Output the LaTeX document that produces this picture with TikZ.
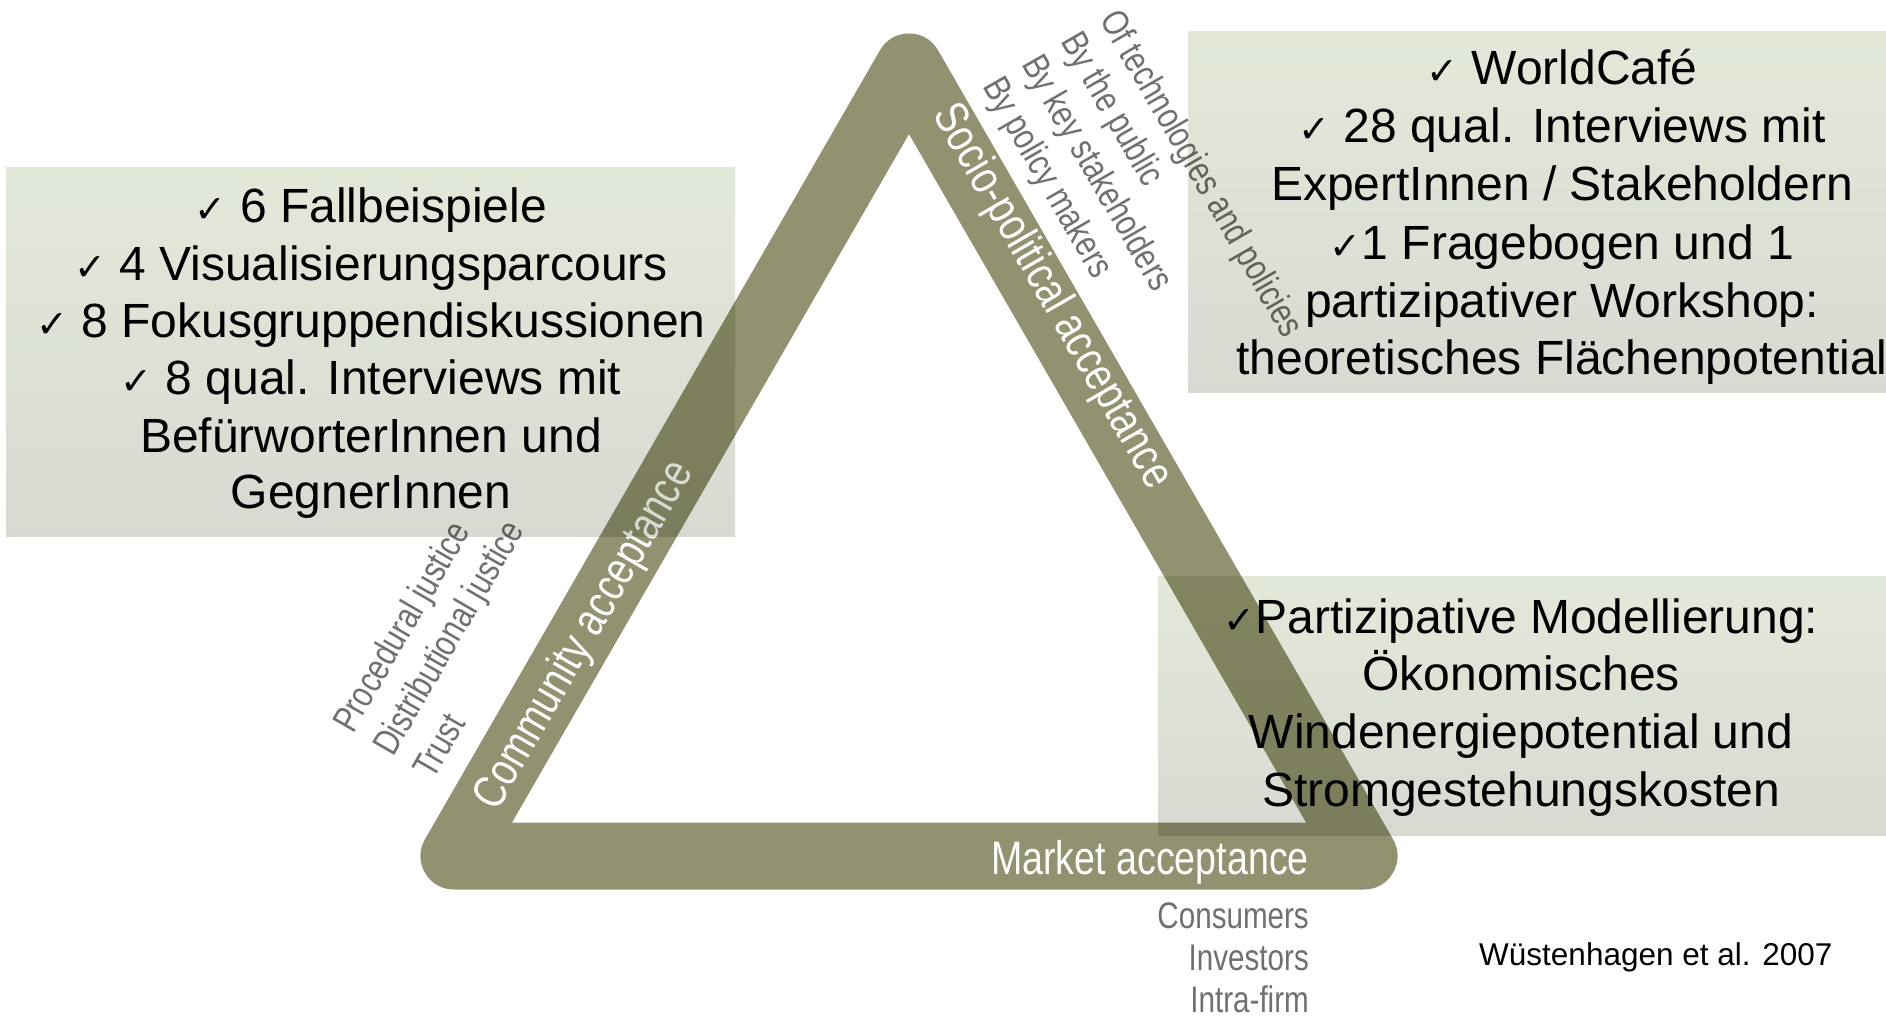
\documentclass[tikz,border=0pt]{standalone}
\usepackage{fontspec}
\setmainfont{Liberation Sans}
\newfontfamily\condfont[FakeStretch=0.8]{Liberation Sans}
\newfontfamily\symfont{DejaVu Sans}
\usetikzlibrary{calc}
\definecolor{bandcol}{RGB}{147,146,112}
\definecolor{boxtop}{RGB}{227,233,217}
\definecolor{boxbot}{RGB}{215,218,210}
\definecolor{greytxt}{RGB}{112,112,112}
\newcommand\chk{{\symfont\fontsize{38}{38}\selectfont ✓}}
\begin{document}
\begin{tikzpicture}[x=1pt,y=-1pt,
  boxline/.style={font=\fontsize{48}{57.6}\selectfont, inner sep=0pt, anchor=base, text=black},
  bandlabel/.style={font=\condfont\fontsize{47}{47}\selectfont, inner sep=0pt, text=white},
  greylabel/.style={font=\condfont\fontsize{37}{37}\selectfont, inner sep=0pt, text=greytxt},
  infobox/.style={top color=boxtop, bottom color=boxbot, draw=none}]
\useasboundingbox (0,0) rectangle (1886,1024);
\fill[white] (0,0) rectangle (1886,1024);

% triangle band
\coordinate (A) at (909,67);
\coordinate (B) at (454,856);
\coordinate (C) at (1364,856);
\draw[bandcol, line width=67pt, line join=round] (B) -- (A) -- (C) -- cycle;

% band labels
\node[bandlabel, rotate=-60, anchor=base] (socio) at ($(A)!0.2966!(C)+(-3,2)$) {Socio-political acceptance};
\node[bandlabel, rotate=60, anchor=base] (comm) at ($(B)!0.2814!(A)+(13.6,7.9)$) {Community acceptance};
\node[bandlabel, anchor=base east] (market) at (1309,874) {Market acceptance};

% grey labels, socio-political
\node[greylabel, rotate=-60, anchor=base west] (sp1) at (1099,19) {Of technologies and policies};
\node[greylabel, rotate=-60, anchor=base west] (sp2) at (1060,41.5) {By the public};
\node[greylabel, rotate=-60, anchor=base west] (sp3) at (1021,64) {By key stakeholders};
\node[greylabel, rotate=-60, anchor=base west] (sp4) at (982,86.5) {By policy makers};
% grey labels, community
\node[greylabel, rotate=60, anchor=base west] (cm1) at (353,735) {Procedural justice};
\node[greylabel, rotate=60, anchor=base west] (cm2) at (393,758) {Distributional justice};
\node[greylabel, rotate=60, anchor=base west] (cm3) at (433,781) {Trust};
% grey labels, market
\node[greylabel, anchor=base east] (mk1) at (1309,928) {Consumers};
\node[greylabel, anchor=base east] (mk2) at (1309,970) {Investors};
\node[greylabel, anchor=base east] (mk3) at (1309,1012) {Intra-firm};

% info boxes (multiplied over the band)
\begin{scope}[blend mode=multiply]
\shade[infobox] (6,168) rectangle (735,536);
\shade[infobox] (1188,32) rectangle (1886,392);
\shade[infobox] (1158,576) rectangle (1886,835);
\end{scope}

% left box text
\node[boxline] (l1) at (371,223) {\chk\ 6 Fallbeispiele};
\node[boxline] (l2) at (371,280) {\chk\ 4 Visualisierungsparcours};
\node[boxline] (l3) at (371,337) {\chk\ 8 Fokusgruppendiskussionen};
\node[boxline] (l4) at (371,394) {\chk\ 8 qual. Interviews mit};
\node[boxline] (l5) at (371,452) {BefürworterInnen und};
\node[boxline] (l6) at (371,508) {GegnerInnen};

% top right box text
\node[boxline] (r1) at (1562,85) {\chk\ WorldCafé};
\node[boxline] (r2) at (1562,143) {\chk\ 28 qual. Interviews mit};
\node[boxline] (r3) at (1562,201) {ExpertInnen / Stakeholdern};
\node[boxline] (r4) at (1562,259) {\chk1 Fragebogen und 1};
\node[boxline] (r5) at (1562,317) {partizipativer Workshop:};
\node[boxline] (r6) at (1562,374) {theoretisches Flächenpotential};

% bottom right box text
\node[boxline] (m1) at (1521,633) {\chk Partizipative Modellierung:};
\node[boxline] (m2) at (1521,690) {Ökonomisches};
\node[boxline] (m3) at (1521,748) {Windenergiepotential und};
\node[boxline] (m4) at (1521,806) {Stromgestehungskosten};

% citation
\node[font=\fontsize{31.5}{36}\selectfont, inner sep=0pt, anchor=base west] (cite) at (1479,965) {Wüstenhagen et al. 2007};
\end{tikzpicture}
\end{document}
